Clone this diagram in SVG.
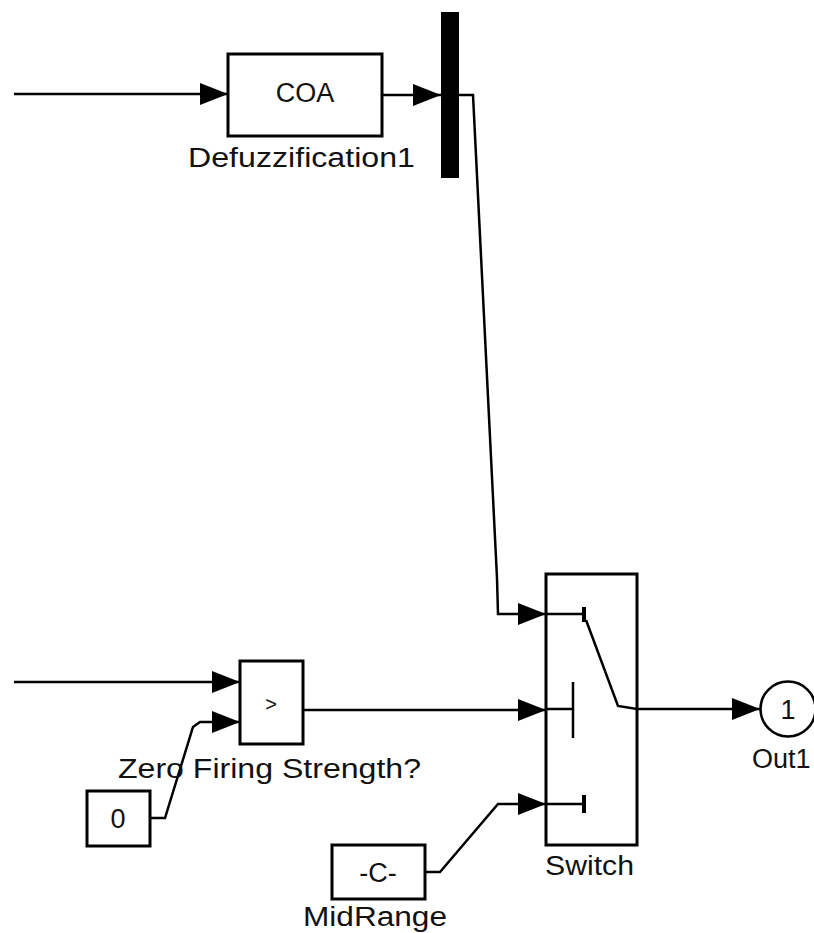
<svg xmlns="http://www.w3.org/2000/svg" width="814" height="933" viewBox="0 0 814 933">
<style>
.blk{fill:#fff;stroke:#000;stroke-width:3}
.ln{fill:none;stroke:#000;stroke-width:2.5;marker-end:url(#ah)}
.ln0{fill:none;stroke:#000;stroke-width:2.5}
.t{font-family:"Liberation Sans",Arial,sans-serif;font-size:27px;fill:#111}
.c{text-anchor:middle}
</style>
<defs>
<marker id="ah" markerUnits="userSpaceOnUse" markerWidth="30" markerHeight="24" refX="28" refY="11" orient="auto">
<path d="M0,0 L28,11 L0,22 z" fill="#000"/>
</marker>
</defs>
<g id="connectors">
<line class="ln" x1="14" y1="94" x2="228" y2="94"/>
<line class="ln" x1="382" y1="95" x2="441" y2="95"/>
<polyline class="ln" points="459,95 473,95 497,578 498,614 546,614"/>
<line class="ln" x1="303" y1="710" x2="546" y2="710"/>
<line class="ln" x1="14" y1="682" x2="240" y2="682"/>
<polyline class="ln" points="150,818 165,818 193,727 200,722 240,722"/>
<polyline class="ln" points="425,872 440,872 498,804 546,804"/>
<line class="ln" x1="637" y1="709" x2="760" y2="709"/>
</g>
<g id="coa">
<rect class="blk" x="228" y="54" width="154" height="82"/>
<text class="t c" x="305" y="102">COA</text>
<text class="t" x="188" y="167" textLength="227" lengthAdjust="spacingAndGlyphs">Defuzzification1</text>
</g>
<g id="mux">
<rect x="441" y="12" width="18" height="166" fill="#000"/>
</g>
<g id="compare">
<rect class="blk" x="240" y="661" width="63" height="83"/>
<text class="t c" x="271" y="711" style="font-size:20px">&gt;</text>
<text class="t" x="118" y="778" textLength="303" lengthAdjust="spacingAndGlyphs">Zero Firing Strength?</text>
</g>
<g id="zero">
<rect class="blk" x="87" y="791" width="63" height="55"/>
<text class="t c" x="118" y="828">0</text>
</g>
<g id="midrange">
<rect class="blk" x="332" y="845" width="93" height="54"/>
<text class="t c" x="378" y="882">-C-</text>
<text class="t" x="303" y="926" textLength="144" lengthAdjust="spacingAndGlyphs">MidRange</text>
</g>
<g id="switch">
<rect class="blk" x="546" y="574" width="91" height="271"/>
<polyline class="ln0" points="546,614 584,614"/>
<line x1="584" y1="607" x2="584" y2="622" stroke="#000" stroke-width="4"/>
<polyline class="ln0" points="586,620 618,706 637,709"/>
<line class="ln0" x1="546" y1="709" x2="573" y2="709"/>
<line class="ln0" x1="573" y1="682" x2="573" y2="738"/>
<line class="ln0" x1="546" y1="804" x2="584" y2="804"/>
<line x1="584" y1="795" x2="584" y2="813" stroke="#000" stroke-width="4"/>
<text class="t" x="545" y="875" textLength="89" lengthAdjust="spacingAndGlyphs">Switch</text>
</g>
<g id="out1">
<circle cx="788" cy="709" r="27.5" fill="#fff" stroke="#000" stroke-width="2.5"/>
<text class="t c" x="788" y="719">1</text>
<text class="t" x="752" y="768">Out1</text>
</g>
</svg>
